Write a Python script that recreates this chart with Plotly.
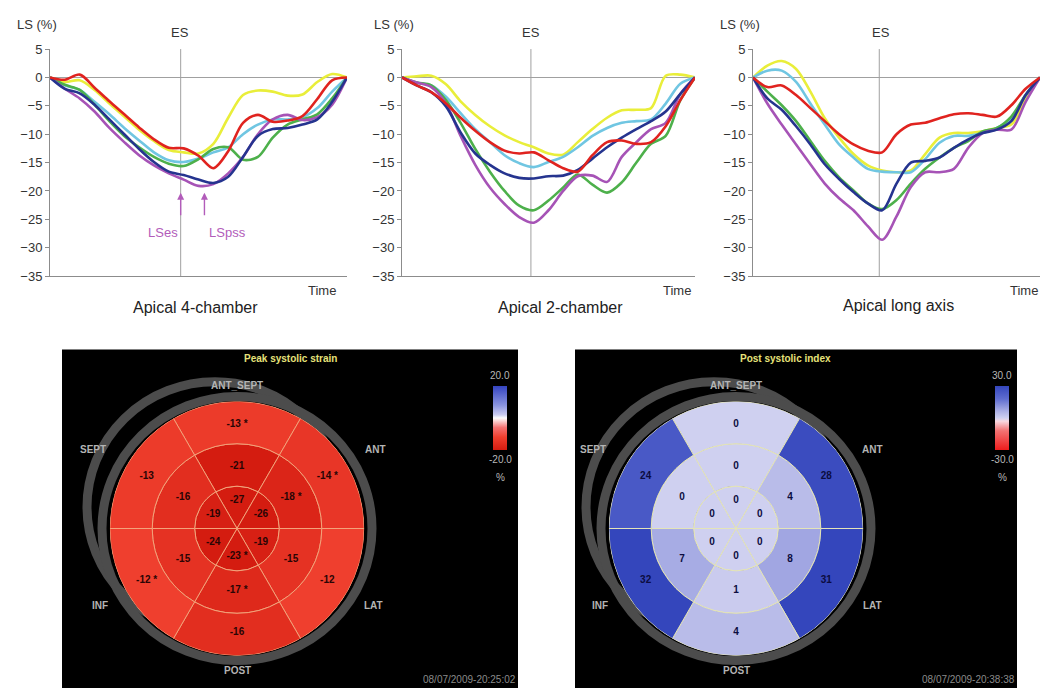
import plotly.graph_objects as go

W, H = 1041, 696

# ---------------- data: longitudinal strain curves ----------------
TIME = [0.00, 0.05, 0.10, 0.15, 0.20, 0.25, 0.30, 0.35, 0.40, 0.45, 0.50,
        0.55, 0.60, 0.65, 0.70, 0.75, 0.80, 0.85, 0.90, 0.95, 1.00]
ES_TIME = 0.44
LS_TICKS = [5, 0, -5, -10, -15, -20, -25, -30, -35]

A4C_YELLOW = [0, -0.8, -0.5, -2.2, -4.6, -6.9, -9.2, -11.2, -12.8, -13.2, -13.4, -11.7, -7.1, -3.1, -2.3, -2.5, -3.2, -3.0, -0.8, 0.6, 0]
A4C_CYAN = [0, -1.4, -2.2, -4.3, -6.5, -8.9, -11.1, -13.2, -14.6, -14.9, -14.3, -13.2, -12.3, -10.0, -8.3, -7.4, -7.4, -7.0, -5.4, -2.5, 0]
A4C_GREEN = [0, -1.3, -2.2, -4.8, -7.7, -10.3, -12.3, -14.0, -15.2, -15.6, -14.4, -12.6, -12.3, -14.5, -14.0, -10.6, -8.3, -7.4, -6.5, -3.7, 0]
A4C_PURPLE = [0, -2.0, -3.7, -6.0, -8.9, -11.4, -13.7, -15.5, -16.9, -18.0, -19.1, -18.8, -16.9, -14.0, -10.0, -7.4, -6.6, -7.5, -7.0, -4.8, 0]
A4C_BLUE = [0, -2.0, -2.8, -4.8, -7.4, -10.0, -12.6, -14.9, -16.6, -17.2, -18.0, -18.6, -17.5, -14.0, -10.3, -9.1, -8.9, -8.3, -7.4, -4.3, 0]
A4C_RED = [0, -0.4, 0.5, -1.8, -4.2, -6.5, -8.8, -10.9, -12.4, -12.5, -13.8, -16.0, -13.0, -8.0, -6.6, -7.8, -7.6, -6.8, -3.8, -0.5, 0]

A2C_YELLOW = [0, 0.2, 0.3, -1.2, -4.2, -6.6, -8.6, -10.2, -11.4, -12.3, -13.4, -13.6, -11.4, -9.1, -7.1, -5.8, -5.7, -5.4, 0.3, 0.5, 0]
A2C_CYAN = [0, -0.9, -1.4, -3.4, -6.3, -9.1, -11.4, -13.7, -15.1, -15.8, -14.9, -14.0, -12.3, -10.3, -8.9, -8.0, -7.7, -7.4, -4.6, -1.1, 0]
A2C_GREEN = [0, -0.9, -1.4, -4.0, -8.0, -12.6, -16.6, -20.0, -22.6, -23.4, -21.7, -19.4, -17.1, -18.9, -20.3, -18.5, -15.0, -11.7, -10.3, -4.0, 0]
A2C_PURPLE = [0, -0.9, -1.7, -4.6, -10.3, -15.4, -19.4, -22.3, -24.6, -25.6, -23.4, -20.0, -17.4, -17.3, -18.4, -14.0, -11.4, -9.1, -8.0, -2.9, 0]
A2C_BLUE = [0, -1.4, -2.6, -5.1, -9.7, -13.4, -15.4, -16.9, -17.7, -17.8, -17.4, -17.3, -16.3, -14.3, -12.3, -10.6, -9.1, -7.7, -6.0, -2.9, 0]
A2C_RED = [0, -1.4, -2.6, -4.6, -7.1, -9.4, -11.4, -12.9, -13.4, -13.2, -14.6, -16.0, -16.6, -13.7, -11.4, -11.1, -11.7, -11.4, -8.6, -4.0, 0]

ALAX_YELLOW = [0, 2.1, 2.9, 1.5, -2.5, -7.2, -10.6, -13.5, -15.5, -16.4, -16.7, -16.4, -13.5, -10.6, -9.8, -9.8, -9.5, -8.9, -8.3, -3.7, 0]
ALAX_CYAN = [0, 1.2, 1.2, -0.8, -4.6, -8.3, -11.8, -14.1, -16.1, -16.6, -16.7, -16.7, -14.4, -11.5, -10.3, -10.3, -9.8, -8.9, -7.2, -3.1, 0]
ALAX_GREEN = [0, -2.5, -4.9, -7.7, -11.2, -14.7, -17.6, -19.9, -22.2, -23.2, -21.6, -18.7, -16.1, -14.1, -12.4, -11.2, -9.5, -8.9, -6.9, -3.1, 0]
ALAX_PURPLE = [0, -4.6, -8.3, -11.8, -15.3, -18.7, -21.3, -23.4, -26.2, -28.6, -24.5, -19.3, -16.7, -16.7, -16.1, -12.4, -9.8, -9.2, -9.2, -4.3, 0]
ALAX_BLUE = [0, -3.7, -5.7, -8.6, -11.8, -15.3, -17.9, -20.2, -22.2, -23.4, -18.7, -15.0, -14.7, -14.1, -12.4, -10.9, -9.8, -9.2, -7.7, -3.1, 0]
ALAX_RED = [0, -1.7, -1.4, -3.1, -5.4, -7.7, -10.0, -11.8, -12.9, -13.2, -10.0, -8.3, -8.0, -7.2, -6.5, -6.3, -6.6, -6.9, -4.9, -2.0, 0]

VIEW_TITLES = ["Apical 4-chamber", "Apical 2-chamber", "Apical long axis"]
LSES_TIME = 0.44
LSPSS_TIME = 0.52

# ---------------- data: bull's-eye plots ----------------
SECTOR_THETA = [90, 30, -30, -90, -150, 150]          # ANT_SEPT, ANT, LAT, POST, INF, SEPT
SECTOR_NAMES = ["ANT_SEPT", "ANT", "LAT", "POST", "INF", "SEPT"]

STRAIN_BASAL = [-13, -14, -12, -16, -12, -13]
STRAIN_MID = [-21, -18, -15, -17, -15, -16]
STRAIN_APICAL = [-27, -26, -19, -23, -24, -19]
STRAIN_BASAL_STAR = [True, True, False, False, True, False]
STRAIN_MID_STAR = [False, True, False, True, False, False]
STRAIN_APICAL_STAR = [False, False, False, True, False, False]

PSI_BASAL = [0, 28, 31, 4, 32, 24]
PSI_MID = [0, 4, 8, 1, 7, 0]
PSI_APICAL = [0, 0, 0, 0, 0, 0]

STRAIN_RANGE = [-20.0, 20.0]
PSI_RANGE = [-30.0, 30.0]

# ---------------- styling ----------------
FONT = "Arial, Liberation Sans, sans-serif"
LINE_COLORS = {"yellow": "#e9ee3a", "cyan": "#70c6e2", "green": "#4db04b",
               "purple": "#a653b6", "blue": "#25348f", "red": "#e0231f"}
AXIS_GRAY = "#8c8c8c"
ANNOT_PURPLE = "#b25cba"

def px(x):
    return x / W

def py(y):
    return 1 - y / H

fig = go.Figure()

views = [
    {"yellow": A4C_YELLOW, "cyan": A4C_CYAN, "green": A4C_GREEN, "purple": A4C_PURPLE, "blue": A4C_BLUE, "red": A4C_RED},
    {"yellow": A2C_YELLOW, "cyan": A2C_CYAN, "green": A2C_GREEN, "purple": A2C_PURPLE, "blue": A2C_BLUE, "red": A2C_RED},
    {"yellow": ALAX_YELLOW, "cyan": ALAX_CYAN, "green": ALAX_GREEN, "purple": ALAX_PURPLE, "blue": ALAX_BLUE, "red": ALAX_RED},
]
x_domains_px = [(50, 347), (402, 695), (753, 1040)]
y_domain_px = (43, 275)

for i, view in enumerate(views):
    suffix = "" if i == 0 else str(i + 1)
    for name in ["yellow", "cyan", "green", "purple", "blue", "red"]:
        fig.add_trace(go.Scatter(
            x=TIME, y=view[name], mode="lines",
            line=dict(color=LINE_COLORS[name], width=2.6, shape="spline", smoothing=0.9),
            xaxis="x" + suffix, yaxis="y" + suffix, showlegend=False, hoverinfo="skip"))

layout_axes = {}
shapes = []
annotations = []

def ann(text, x, y, size=12, color="#222", xanchor="center", yanchor="middle", bold=False):
    annotations.append(dict(
        text=("<b>%s</b>" % text) if bold else text, x=px(x), y=py(y),
        xref="paper", yref="paper", showarrow=False, xanchor=xanchor, yanchor=yanchor,
        font=dict(family=FONT, size=size, color=color)))

for i, (x0, x1) in enumerate(x_domains_px):
    suffix = "" if i == 0 else str(i + 1)
    layout_axes["xaxis" + suffix] = dict(
        domain=[px(x0), px(x1)], range=[0, 1], anchor="y" + suffix,
        showline=True, linecolor=AXIS_GRAY, linewidth=1, ticks="", showticklabels=False,
        showgrid=False, zeroline=False, fixedrange=True)
    layout_axes["yaxis" + suffix] = dict(
        domain=[py(y_domain_px[1]), py(y_domain_px[0])], range=[-35, 5], anchor="x" + suffix,
        tickvals=LS_TICKS, ticks="outside", ticklen=4, tickcolor=AXIS_GRAY,
        showline=True, linecolor=AXIS_GRAY, linewidth=1, showgrid=False,
        zeroline=True, zerolinecolor="#a0a0a0", zerolinewidth=1,
        tickfont=dict(family=FONT, size=13, color="#333"), fixedrange=True)
    shapes.append(dict(type="line", xref="x" + suffix, yref="y" + suffix,
                       x0=ES_TIME, x1=ES_TIME, y0=-35, y1=5,
                       line=dict(color="#a0a0a0", width=1), layer="below"))

# top chart texts
for xl, xes, xt in [(15, 180, 322), (372, 531, 677), (718, 881, 1022)]:
    ann("LS (%)", xl, 18, size=13, color="#333", xanchor="left")
    ann("ES", xes, 26, size=13, color="#333")
    if xt > 1000:
        ann("Time", 1040, 290, size=13, color="#333", xanchor="right")
    else:
        ann("Time", xt, 290, size=13, color="#333")
for (xs, ys), title in zip([(195, 307), (560, 307), (898, 305)], VIEW_TITLES):
    ann(title, xs, ys, size=16, color="#222")

# LSes / LSpss arrows
for t in [LSES_TIME, LSPSS_TIME]:
    annotations.append(dict(x=t, y=-20.3, xref="x", yref="y", text="", showarrow=True,
                            ax=0, ay=24, arrowhead=2, arrowsize=1, arrowwidth=1.4,
                            arrowcolor=ANNOT_PURPLE))
ann("LSes", 163, 230, size=13, color=ANNOT_PURPLE)
ann("LSpss", 227, 230, size=13, color=ANNOT_PURPLE)

# ---------------- bull's-eye panels ----------------
panels = [
    dict(rect=(62, 350, 518, 696), center=(237, 533), title="Peak systolic strain", title_x=290,
         values=(STRAIN_BASAL, STRAIN_MID, STRAIN_APICAL),
         stars=(STRAIN_BASAL_STAR, STRAIN_MID_STAR, STRAIN_APICAL_STAR),
         crange=STRAIN_RANGE, cb_x=493,
         colorscale=[[0.0, "#d41c10"], [0.2, "#ef3f2e"], [0.35, "#f47272"], [0.45, "#fad0d0"],
                     [0.5, "#ffffff"], [0.55, "#cccdf2"], [0.7, "#8a94e0"], [1.0, "#3444c0"]],
         seg_line="#f3a27a", label_color="#2a0505",
         stamp="08/07/2009-20:25:02",
         names_x={"SEPT": 93, "ANT": 375, "INF": 100, "LAT": 373}),
    dict(rect=(575, 350, 1017, 696), center=(736, 533), title="Post systolic index", title_x=785,
         values=(PSI_BASAL, PSI_MID, PSI_APICAL),
         stars=None,
         crange=PSI_RANGE, cb_x=995,
         colorscale=[[0.0, "#ee1c1c"], [0.3, "#f27272"], [0.45, "#f8d8e0"], [0.5, "#cfd0f0"],
                     [0.6, "#aeb2e6"], [0.8, "#5e6cd0"], [1.0, "#3446bc"]],
         seg_line="#e4e4b8", label_color="#0c0c40",
         stamp="08/07/2009-20:38:38",
         names_x={"SEPT": 593, "ANT": 873, "INF": 600, "LAT": 872}),
]

R_PX = 130
for k, p in enumerate(panels):
    cx, cy = p["center"]
    x0, y0, x1, y1 = p["rect"]
    shapes.append(dict(type="rect", xref="paper", yref="paper", x0=px(x0), x1=px(x1),
                       y0=py(y1), y1=py(y0), fillcolor="#000000", line=dict(width=0), layer="below"))
    # misaligned outer ring (upper-left) and main ring
    for (ox, oy, rr) in [(cx - 22, cy - 22, 128), (cx, cy, 135)]:
        shapes.append(dict(type="circle", xref="paper", yref="paper",
                           x0=px(ox - rr), x1=px(ox + rr), y0=py(oy + rr), y1=py(oy - rr),
                           line=dict(color="#4c4c4c", width=9), fillcolor="rgba(0,0,0,0)",
                           layer="below"))
    pname = "polar" if k == 0 else "polar2"
    fig.update_layout(**{pname: dict(
        domain=dict(x=[px(cx - R_PX), px(cx + R_PX)], y=[py(cy + R_PX), py(cy - R_PX)]),
        bgcolor="rgba(0,0,0,0)", hole=0,
        radialaxis=dict(range=[0, 3], visible=False),
        angularaxis=dict(visible=False, rotation=0, direction="counterclockwise"))})

    basal, mid, apical = p["values"]
    colors = list(apical) + list(mid) + list(basal)
    fig.add_trace(go.Barpolar(
        r=[1] * 18, base=[0] * 6 + [1] * 6 + [2] * 6,
        theta=SECTOR_THETA * 3, width=[60] * 18,
        marker=dict(color=colors, colorscale=p["colorscale"], cmin=p["crange"][0], cmax=p["crange"][1],
                    line=dict(color=p["seg_line"], width=1),
                    showscale=True,
                    colorbar=dict(x=px(p["cb_x"]), xanchor="left", y=py(420), yanchor="middle",
                                  len=64, lenmode="pixels", thickness=14, thicknessmode="pixels",
                                  showticklabels=False, ticks="", outlinewidth=0, xpad=0, ypad=0,
                                  bgcolor="rgba(0,0,0,0)")),
        subplot=pname, showlegend=False, hoverinfo="skip"))

    if p["stars"] is not None:
        sb, sm, sa = p["stars"]
        stars = list(sa) + list(sm) + list(sb)
    else:
        stars = [False] * 18
    texts = ["<b>%d%s</b>" % (v, " *" if s else "") for v, s in zip(colors, stars)]
    fig.add_trace(go.Scatterpolar(
        r=[0.65] * 6 + [1.47] * 6 + [2.46] * 6, theta=SECTOR_THETA * 3,
        mode="text", text=texts,
        textfont=dict(family=FONT, size=10, color=p["label_color"]),
        subplot=pname, showlegend=False, hoverinfo="skip"))

    # panel texts
    ann(p["title"], p["title_x"], 359, size=10, color="#e6e27a", bold=True)
    label_gray = "#b4b4b4"
    ann("ANT_SEPT", cx, 387, size=10, color=label_gray, bold=True)
    ann("POST", cx, 678, size=10, color=label_gray, bold=True)
    ann("SEPT", p["names_x"]["SEPT"], 452, size=10, color=label_gray, bold=True)
    ann("ANT", p["names_x"]["ANT"], 452, size=10, color=label_gray, bold=True)
    ann("INF", p["names_x"]["INF"], 612, size=10, color=label_gray, bold=True)
    ann("LAT", p["names_x"]["LAT"], 612, size=10, color=label_gray, bold=True)
    ann("%.1f" % p["crange"][1], p["cb_x"] + 7, 377, size=10, color="#b8b8b8")
    ann("%.1f" % p["crange"][0], p["cb_x"] + 7, 462, size=10, color="#b8b8b8")
    ann("%", p["cb_x"] + 7, 481, size=10, color="#b8b8b8")
    ann(p["stamp"], x1, 687, size=10, color="#8a8a8a", xanchor="right")

fig.update_layout(
    width=W, height=H, margin=dict(l=0, r=0, t=0, b=0),
    paper_bgcolor="white", plot_bgcolor="white",
    shapes=shapes, annotations=annotations, showlegend=False,
    **layout_axes)

fig.write_html("out.html", config={"displayModeBar": False},
               post_script="document.body.style.margin='0px';document.body.style.overflow='hidden';")
